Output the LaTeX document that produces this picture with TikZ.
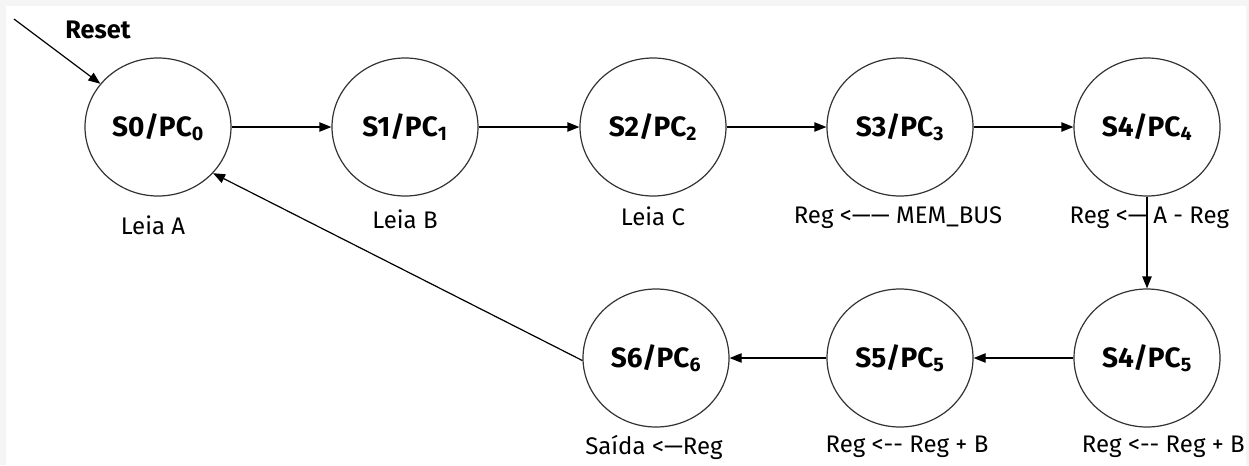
\documentclass[tikz,border=0pt]{standalone}
\usepackage{fontspec}
\setmainfont{Fira Sans}
\usetikzlibrary{arrows.meta,shapes.geometric}
\definecolor{bggray}{HTML}{F5F5F5}
\begin{document}
\begin{tikzpicture}[x=0.75pt,y=-0.75pt,
  state/.style={draw=black!80,line width=0.9pt,ellipse,minimum width=146*0.75pt,minimum height=138*0.75pt,inner sep=0pt,font=\fontsize{21}{21}\selectfont\bfseries},
  lbl/.style={font=\fontsize{18}{18}\selectfont,inner sep=0pt},
  arr/.style={-{Triangle[length=9pt,width=7pt]},line width=0.9pt}]
\fill[bggray] (0,0) rectangle (1249,465);
\fill[white] (6,6) rectangle (1246,465);
\useasboundingbox (0,0) rectangle (1249,465);
\node[state] (s0) at (158,127) {S0/PC$_{\mathbf 0}$};
\node[state] (s1) at (405,127) {S1/PC$_{\mathbf 1}$};
\node[state] (s2) at (653,127) {S2/PC$_{\mathbf 2}$};
\node[state] (s3) at (900,127) {S3/PC$_{\mathbf 3}$};
\node[state] (s4) at (1147,127) {S4/PC$_{\mathbf 4}$};
\node[state] (s45) at (1147,358) {S4/PC$_{\mathbf 5}$};
\node[state] (s5) at (900,358) {S5/PC$_{\mathbf 5}$};
\node[state] (s6) at (656,358) {S6/PC$_{\mathbf 6}$};
\node[lbl] (l0) at (153,225) {Leia A};
\node[lbl] (l1) at (405,219) {Leia B};
\node[lbl] (l2) at (653,216) {Leia C};
\node[lbl] (l3) at (898,218) {Reg <\textemdash\textemdash\ MEM\_BUS};
\node[lbl,anchor=east] (l4a) at (1147,218) {Reg <\textemdash};
\node[lbl,anchor=west] (l4b) at (1153,218) {A - Reg};
\node[lbl,anchor=east] (l45) at (1245,447) {Reg <{-}{-} Reg + B};
\node[lbl] (l5) at (907,447) {Reg <{-}{-} Reg + B};
\node[lbl] (l6) at (654,447) {Saída <\textemdash Reg};
\node[font=\fontsize{19}{19}\selectfont\bfseries,inner sep=0pt] (rst) at (98,30) {Reset};
\coordinate (rs) at (14,19);
\draw[arr] (rs) -- (s0);
\draw[arr] (s0) -- (s1);
\draw[arr] (s1) -- (s2);
\draw[arr] (s2) -- (s3);
\draw[arr] (s3) -- (s4);
\draw[arr] (s4) -- (s45);
\draw[arr] (s45) -- (s5);
\draw[arr] (s5) -- (s6);
\draw[arr] (s6.182) -- (s0.-40);
\end{tikzpicture}
\end{document}
